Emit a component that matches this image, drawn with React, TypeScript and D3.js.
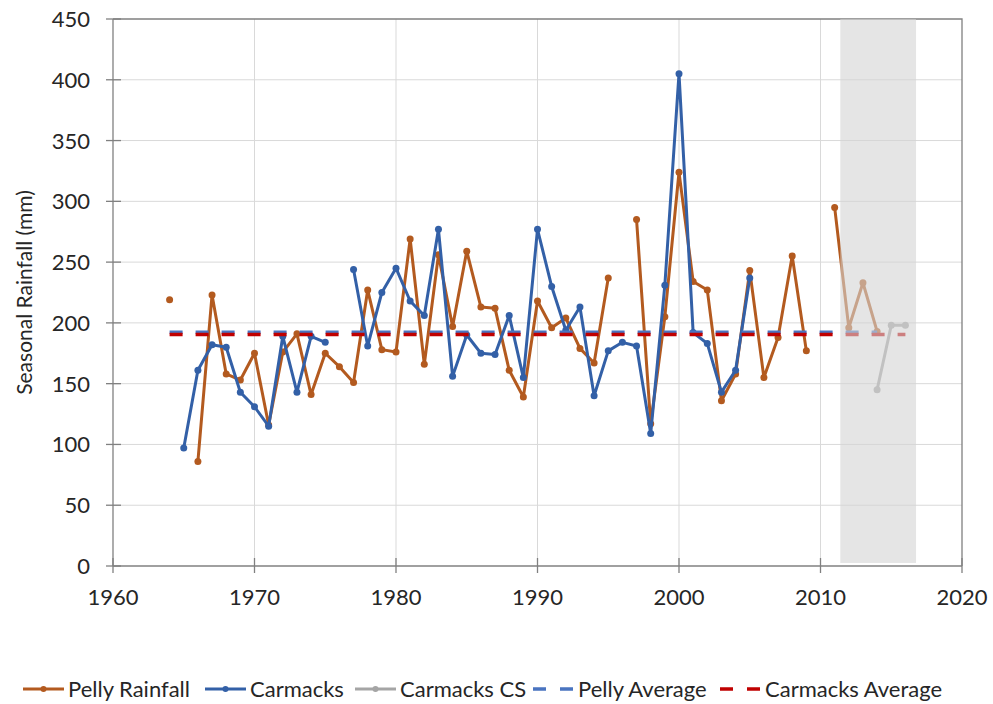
import React, { useEffect, useRef } from 'react';
import * as d3 from 'd3';

// years on the x axis (one entry per season)
const years = [
  1964, 1965, 1966, 1967, 1968, 1969, 1970, 1971, 1972, 1973,
  1974, 1975, 1976, 1977, 1978, 1979, 1980, 1981, 1982, 1983,
  1984, 1985, 1986, 1987, 1988, 1989, 1990, 1991, 1992, 1993,
  1994, 1995, 1996, 1997, 1998, 1999, 2000, 2001, 2002, 2003,
  2004, 2005, 2006, 2007, 2008, 2009, 2010, 2011, 2012, 2013,
  2014, 2015, 2016,
];

// seasonal rainfall (mm), null = no record
const pellyRainfall = [
  219, null, 86, 223, 158, 153, 175, 116, 176, 191,
  141, 175, 164, 151, 227, 178, 176, 269, 166, 256,
  197, 259, 213, 212, 161, 139, 218, 196, 204, 179,
  167, 237, null, 285, 117, 205, 324, 234, 227, 136,
  158, 243, 155, 188, 255, 177, null, 295, 196, 233,
  193, null, null,
];

const carmacks = [
  null, 97, 161, 182, 180, 143, 131, 115, 189, 143,
  189, 184, null, 244, 181, 225, 245, 218, 206, 277,
  156, 190, 175, 174, 206, 155, 277, 230, 194, 213,
  140, 177, 184, 181, 109, 231, 405, 192, 183, 143,
  161, 237, null, null, null, null, null, null, null, null,
  null, null, null,
];

const carmacksCSYears = [2014, 2015, 2016];
const carmacksCS = [145, 198, 198];

const pellyAverage = 192.4;
const pellyAverageYears = [1964, 2014];
const carmacksAverage = 190.5;
const carmacksAverageYears = [1964, 2016];

// shaded period
const shadeYears = [2011.4, 2016.75];

const xTicks = [1960, 1970, 1980, 1990, 2000, 2010, 2020];
const yTicks = [0, 50, 100, 150, 200, 250, 300, 350, 400, 450];

const ORANGE = '#b35a1f';
const BLUE = '#3360a7';
const GREY = '#a5a5a5';
const AVG_BLUE = '#4a74c0';
const AVG_RED = '#c00000';
const FONT = 'Lato, "Open Sans", sans-serif';

type Pt = { year: number; value: number | null };

export default function App() {
  const ref = useRef<SVGSVGElement>(null);

  useEffect(() => {
    const W = 993;
    const H = 704;
    const margin = { top: 19, right: 31, bottom: 138, left: 113 };

    const svg = d3.select(ref.current);
    svg.selectAll('*').remove();

    const x = d3.scaleLinear().domain([1960, 2020]).range([margin.left, W - margin.right]);
    const y = d3.scaleLinear().domain([0, 450]).range([H - margin.bottom, margin.top]);

    const g = svg.append('g');

    // gridlines
    g.selectAll('.vgrid')
      .data(xTicks.slice(1, -1))
      .enter()
      .append('line')
      .attr('x1', (d) => x(d))
      .attr('x2', (d) => x(d))
      .attr('y1', y(0))
      .attr('y2', y(450))
      .attr('stroke', '#d9d9d9')
      .attr('stroke-width', 1);

    g.selectAll('.hgrid')
      .data(yTicks.slice(1, -1))
      .enter()
      .append('line')
      .attr('x1', x(1960))
      .attr('x2', x(2020))
      .attr('y1', (d) => y(d))
      .attr('y2', (d) => y(d))
      .attr('stroke', '#d9d9d9')
      .attr('stroke-width', 1);

    // plot frame (top + right)
    g.append('path')
      .attr('d', `M${x(1960)},${y(450)}H${x(2020)}V${y(0)}`)
      .attr('fill', 'none')
      .attr('stroke', '#808080')
      .attr('stroke-width', 1.3);

    // series
    const line = d3
      .line<Pt>()
      .defined((d) => d.value != null)
      .x((d) => x(d.year))
      .y((d) => y(d.value as number));

    const drawSeries = (pts: Pt[], color: string) => {
      g.append('path')
        .datum(pts)
        .attr('d', line)
        .attr('fill', 'none')
        .attr('stroke', color)
        .attr('stroke-width', 3)
        .attr('stroke-linejoin', 'round');
      g.append('g')
        .selectAll('circle')
        .data(pts.filter((d) => d.value != null))
        .enter()
        .append('circle')
        .attr('cx', (d) => x(d.year))
        .attr('cy', (d) => y(d.value as number))
        .attr('r', 3.5)
        .attr('fill', color);
    };

    drawSeries(years.map((yr, i) => ({ year: yr, value: pellyRainfall[i] })), ORANGE);
    drawSeries(years.map((yr, i) => ({ year: yr, value: carmacks[i] })), BLUE);
    drawSeries(carmacksCSYears.map((yr, i) => ({ year: yr, value: carmacksCS[i] })), GREY);

    const drawAverage = (val: number, span: number[], color: string) => {
      g.append('line')
        .attr('x1', x(span[0]))
        .attr('x2', x(span[1]))
        .attr('y1', y(val))
        .attr('y2', y(val))
        .attr('stroke', color)
        .attr('stroke-width', 3.5)
        .attr('stroke-dasharray', '13,13');
    };
    drawAverage(pellyAverage, pellyAverageYears, AVG_BLUE);
    drawAverage(carmacksAverage, carmacksAverageYears, AVG_RED);

    // shaded period over the data
    g.append('rect')
      .attr('x', x(shadeYears[0]))
      .attr('width', x(shadeYears[1]) - x(shadeYears[0]))
      .attr('y', y(450))
      .attr('height', y(2.5) - y(450))
      .attr('fill', 'rgb(212,212,212)')
      .attr('opacity', 0.6);

    // axes
    g.append('line')
      .attr('x1', x(1960))
      .attr('x2', x(2020))
      .attr('y1', y(0))
      .attr('y2', y(0))
      .attr('stroke', '#808080')
      .attr('stroke-width', 1.3);
    g.append('line')
      .attr('x1', x(1960))
      .attr('x2', x(1960))
      .attr('y1', y(0))
      .attr('y2', y(450))
      .attr('stroke', '#808080')
      .attr('stroke-width', 1.3);

    g.selectAll('.xtick')
      .data(xTicks)
      .enter()
      .append('line')
      .attr('x1', (d) => x(d))
      .attr('x2', (d) => x(d))
      .attr('y1', y(0) - 8)
      .attr('y2', y(0) + 7)
      .attr('stroke', '#808080')
      .attr('stroke-width', 1.3);

    g.selectAll('.ytick')
      .data(yTicks)
      .enter()
      .append('line')
      .attr('x1', x(1960) - 7)
      .attr('x2', x(1960) + 8)
      .attr('y1', (d) => y(d))
      .attr('y2', (d) => y(d))
      .attr('stroke', '#808080')
      .attr('stroke-width', 1.3);

    g.selectAll('.xlabel')
      .data(xTicks)
      .enter()
      .append('text')
      .attr('x', (d) => x(d))
      .attr('y', y(0) + 39)
      .attr('text-anchor', 'middle')
      .style('font-family', FONT)
      .style('font-size', '22px')
      .attr('fill', '#262626')
      .text((d) => d);

    g.selectAll('.ylabel')
      .data(yTicks)
      .enter()
      .append('text')
      .attr('x', x(1960) - 23)
      .attr('y', (d) => y(d) + 8)
      .attr('text-anchor', 'end')
      .style('font-family', FONT)
      .style('font-size', '22px')
      .attr('fill', '#262626')
      .text((d) => d);

    g.append('text')
      .attr('transform', `translate(32, ${(y(0) + y(450)) / 2}) rotate(-90)`)
      .attr('text-anchor', 'middle')
      .style('font-family', FONT)
      .style('font-size', '21px')
      .attr('fill', '#262626')
      .text('Seasonal Rainfall (mm)');

    // legend
    const legendY = 689;
    const legendItems = [
      { label: 'Pelly Rainfall', color: ORANGE, x0: 23, dashed: false },
      { label: 'Carmacks', color: BLUE, x0: 205, dashed: false },
      { label: 'Carmacks CS', color: GREY, x0: 355, dashed: false },
      { label: 'Pelly Average', color: AVG_BLUE, x0: 533, dashed: true },
      { label: 'Carmacks Average', color: AVG_RED, x0: 720, dashed: true },
    ];
    const legend = g
      .selectAll('.legend')
      .data(legendItems)
      .enter()
      .append('g')
      .attr('transform', (d) => `translate(${d.x0}, ${legendY})`);

    legend
      .append('line')
      .attr('x1', 0)
      .attr('x2', 41)
      .attr('stroke', (d) => d.color)
      .attr('stroke-width', (d) => (d.dashed ? 3.5 : 3))
      .attr('stroke-dasharray', (d) => (d.dashed ? '13,14' : null));

    legend
      .filter((d) => !d.dashed)
      .append('circle')
      .attr('cx', 20.5)
      .attr('r', 3)
      .attr('fill', (d) => d.color);

    legend
      .append('text')
      .attr('x', 45)
      .attr('y', 8)
      .style('font-family', FONT)
      .style('font-size', '22px')
      .attr('fill', '#262626')
      .text((d) => d.label);
  }, []);

  return (
    <div style={{ position: 'absolute', left: 0, top: 0 }}>
      <svg ref={ref} width={993} height={704} style={{ display: 'block', background: '#fff' }} />
    </div>
  );
}
